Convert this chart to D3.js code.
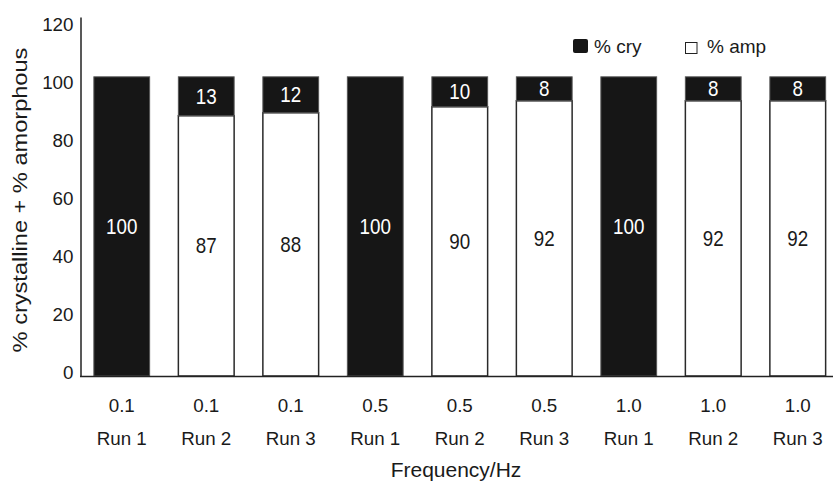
<!DOCTYPE html>
<html><head><meta charset="utf-8">
<script src="https://cdn.jsdelivr.net/npm/d3@7"></script>
<style>
html,body{margin:0;padding:0;background:#fff;}
svg text{font-family:"Liberation Sans",Arial,Helvetica,sans-serif;fill:#1a1a1a;}
</style></head>
<body><svg id="c" width="833" height="484"></svg>
<script>
const freqs = ["0.1","0.1","0.1","0.5","0.5","0.5","1.0","1.0","1.0"];
const runs = ["Run 1","Run 2","Run 3","Run 1","Run 2","Run 3","Run 1","Run 2","Run 3"];
const cry = [100,13,12,100,10,8,100,8,8];
const amp = [0,87,88,0,90,92,0,92,92];
const yTicks = [0,20,40,60,80,100,120];

const svg = d3.select("#c");
const idx = d3.range(freqs.length);
const x = d3.scaleBand().domain(idx).range([79.5,840]).paddingInner(0.34).paddingOuter(0.17);
const y = d3.scaleLinear().domain([0,120]).range([376,17]);
// tick labels in the reference sit on a slightly tighter spacing than the bars
const yLab = d3.scaleLinear().domain([0,120]).range([372,24]);
const SY = 1.13;
const dark = "#161616";

// y axis
const ya = svg.append("g").attr("transform","translate(80.5,0)")
  .call(d3.axisLeft(y).tickValues(yTicks).tickSize(0).tickPadding(7).tickSizeOuter(0));
ya.select(".domain").attr("stroke","#222").attr("stroke-width",1.5);
ya.selectAll(".tick text").attr("font-size",18.8).attr("fill","#1a1a1a")
  .attr("font-family","Liberation Sans, Arial, sans-serif")
  .attr("y",d=>yLab(d)-y(d)).attr("dy","0.34em");

// bars: amorphous (bottom, white) then crystalline (top, black)
const g = svg.append("g");
g.selectAll("rect.amp").data(idx.filter(i=>amp[i]>0)).join("rect").attr("class","amp")
  .attr("x",i=>x(i)).attr("width",x.bandwidth())
  .attr("y",i=>y(amp[i])).attr("height",i=>y(0)-y(amp[i]))
  .attr("fill","#fff").attr("stroke","#2a2a2a").attr("stroke-width",1.5);
g.selectAll("rect.cry").data(idx).join("rect").attr("class","cry")
  .attr("x",i=>x(i)).attr("width",x.bandwidth())
  .attr("y",i=>y(amp[i]+cry[i])).attr("height",i=>y(amp[i])-y(amp[i]+cry[i]))
  .attr("fill",dark).attr("stroke","#555").attr("stroke-width",1);

// x axis baseline
const xa = svg.append("g").attr("transform","translate(0,376)")
  .call(d3.axisBottom(x).tickSize(0).tickSizeOuter(0).tickFormat(i=>freqs[i]).tickPadding(0));
xa.select(".domain").attr("stroke","#222").attr("stroke-width",1.5);
xa.selectAll(".tick text").attr("font-size",18.8).attr("fill","#1a1a1a")
  .attr("font-family","Liberation Sans, Arial, sans-serif").attr("y",30).attr("dy","0.32em");
const xa2 = svg.append("g").attr("transform","translate(0,376)")
  .call(d3.axisBottom(x).tickSize(0).tickSizeOuter(0).tickFormat(i=>runs[i]));
xa2.select(".domain").remove();
xa2.selectAll(".tick text").attr("font-size",18.8).attr("fill","#1a1a1a")
  .attr("font-family","Liberation Sans, Arial, sans-serif").attr("y",63).attr("dy","0.32em");

// value labels
const lab = svg.append("g").attr("font-size",18.8).attr("text-anchor","middle");
lab.selectAll("text.c").data(idx).join("text").attr("class","c")
  .attr("transform",i=>`translate(${x(i)+x.bandwidth()/2},${y(amp[i]+cry[i]/2)}) scale(1,${SY})`)
  .attr("dy","0.35em").style("fill","#fff").text(i=>cry[i]);
lab.selectAll("text.a").data(idx.filter(i=>amp[i]>0)).join("text").attr("class","a")
  .attr("transform",i=>`translate(${x(i)+x.bandwidth()/2},${y(amp[i]/2)}) scale(1,${SY})`)
  .attr("dy","0.35em").text(i=>amp[i]);

// axis titles
svg.append("text").attr("transform","translate(456,470)")
  .attr("text-anchor","middle").attr("dy","0.35em").attr("font-size",21).text("Frequency/Hz");
svg.append("text").attr("transform","translate(20,200) scale(1,1.18) rotate(-90)")
  .attr("text-anchor","middle").attr("dy","0.35em").attr("font-size",20).text("% crystalline + % amorphous");

// legend
const lg = svg.append("g");
lg.append("rect").attr("x",573).attr("y",39).attr("width",15).attr("height",14).attr("rx",2).attr("fill",dark);
lg.append("text").attr("x",594).attr("y",46).attr("dy","0.35em").attr("font-size",19).text("% cry");
lg.append("rect").attr("x",685.5).attr("y",42.5).attr("width",11.5).attr("height",11).attr("fill","#fff").attr("stroke","#222").attr("stroke-width",1);
lg.append("text").attr("x",707).attr("y",46).attr("dy","0.35em").attr("font-size",19).text("% amp");
</script></body></html>
